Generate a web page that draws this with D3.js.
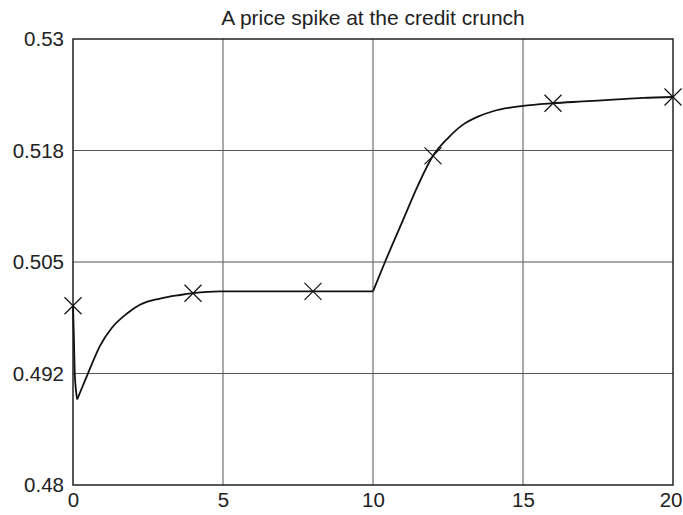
<!DOCTYPE html>
<html><head><meta charset="utf-8">
<script src="https://cdn.jsdelivr.net/npm/d3@7"></script>
<style>body{margin:0;background:#fff}svg{display:block}text{font-family:"Liberation Sans",Arial,sans-serif;fill:#222}</style>
</head><body>
<script>
const title = "A price spike at the credit crunch";
const xTicks = [0, 5, 10, 15, 20];
const xTickLabels = ["0", "5", "10", "15", "20"];
const yTicks = [0.48, 0.4925, 0.505, 0.5175, 0.53];
const yTickLabels = ["0.48", "0.492", "0.505", "0.518", "0.53"];
const priceT = [0, 0.03, 0.06, 0.14, 0.3, 0.51, 0.9, 1.29, 1.79, 2.23, 2.9, 3.57, 4.0, 4.9, 6, 8, 10,
  10.4, 11, 11.5, 12, 12.5, 13, 13.5, 14, 15, 16, 17, 18, 19, 20];
const priceV = [0.5001, 0.4965, 0.4924, 0.4896, 0.4909, 0.4926, 0.4956, 0.4976, 0.4992, 0.5002, 0.5009, 0.5013, 0.5015, 0.5017, 0.5017, 0.5017, 0.5017,
  0.5050, 0.5097, 0.5136, 0.5169, 0.5189, 0.5204, 0.5213, 0.5219, 0.5225, 0.5228, 0.5230, 0.5232, 0.5234, 0.5235];
const kinkT = [0.14, 10];  // times where the path has a corner (drop bottom, credit-crunch onset)
const markerT = [0, 4, 8, 12, 16, 20];
const markerV = [0.5001, 0.5015, 0.5017, 0.5169, 0.5228, 0.5235];

const W = 683, H = 515;
const m = {left: 73, right: 10, top: 39, bottom: 30};
const font = '"Liberation Sans",Arial,sans-serif';
const svg = d3.select("body").append("svg").attr("width", W).attr("height", H);
const x = d3.scaleLinear().domain([0, 20]).range([m.left, W - m.right]);
const y = d3.scaleLinear().domain([0.48, 0.53]).range([H - m.bottom, m.top]);

// grid
svg.append("g").selectAll("line").data(xTicks.slice(1, -1)).join("line")
  .attr("x1", d => x(d)).attr("x2", d => x(d)).attr("y1", y(0.48)).attr("y2", y(0.53))
  .attr("stroke", "#555").attr("stroke-width", 1);
svg.append("g").selectAll("line").data(yTicks.slice(1, -1)).join("line")
  .attr("y1", d => y(d)).attr("y2", d => y(d)).attr("x1", x(0)).attr("x2", x(20))
  .attr("stroke", "#555").attr("stroke-width", 1);

// axes
const xAxis = d3.axisBottom(x).tickValues(xTicks).tickFormat((d, i) => xTickLabels[i]).tickSize(0).tickPadding(5);
const yAxis = d3.axisLeft(y).tickValues(yTicks).tickFormat((d, i) => yTickLabels[i]).tickSize(0).tickPadding(9);
const gx = svg.append("g").attr("transform", `translate(0,${y(0.48)})`).call(xAxis);
const gy = svg.append("g").attr("transform", `translate(${x(0)},0)`).call(yAxis);
[gx, gy].forEach(g => { g.select(".domain").remove(); g.selectAll("text").attr("font-size", 20.5).attr("fill", "#222").attr("font-family", font); });
gx.selectAll("text").attr("dy", "0.85em");
// keep the last x label inside the window
gx.selectAll(".tick").filter(d => d === xTicks[xTicks.length - 1]).select("text")
  .attr("text-anchor", "end").attr("dx", W - 1 - x(20));

// frame
svg.append("rect").attr("x", x(0)).attr("y", y(0.53)).attr("width", x(20) - x(0)).attr("height", y(0.48) - y(0.53))
  .attr("fill", "none").attr("stroke", "#222").attr("stroke-width", 1.5);

// line, drawn as pieces between corners
const pts = priceT.map((t, i) => [t, priceV[i]]);
const bounds = [0, ...kinkT, 20];
const line = d3.line().x(d => x(d[0])).y(d => y(d[1])).curve(d3.curveMonotoneX);
for (let k = 0; k < bounds.length - 1; k++) {
  const seg = pts.filter(p => p[0] >= bounds[k] && p[0] <= bounds[k + 1]);
  svg.append("path").datum(seg).attr("d", line)
    .attr("fill", "none").attr("stroke", "#111").attr("stroke-width", 1.8).attr("stroke-linejoin", "round");
}

// markers
const s = 8.5;
svg.append("g").selectAll("path").data(markerT.map((t, i) => [t, markerV[i]])).join("path")
  .attr("d", d => `M${x(d[0]) - s},${y(d[1]) - s}L${x(d[0]) + s},${y(d[1]) + s}M${x(d[0]) - s},${y(d[1]) + s}L${x(d[0]) + s},${y(d[1]) - s}`)
  .attr("stroke", "#111").attr("stroke-width", 1.2).attr("fill", "none");

// title
svg.append("text").attr("x", (x(0) + x(20)) / 2).attr("y", 25).attr("text-anchor", "middle")
  .attr("font-size", 21).attr("font-family", font).text(title);
</script>
</body></html>
